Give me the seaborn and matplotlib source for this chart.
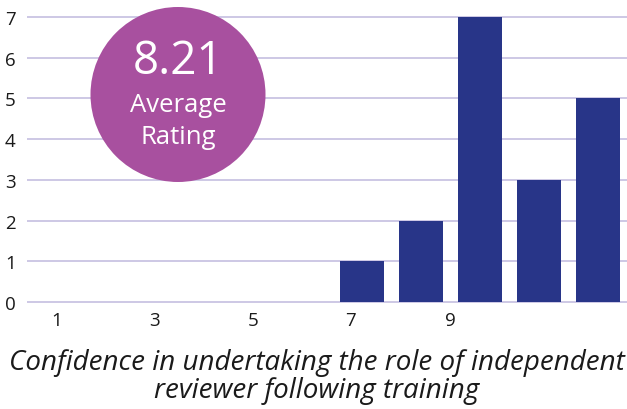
import matplotlib
matplotlib.use("Agg")
import matplotlib.pyplot as plt
from matplotlib.patches import Circle
import seaborn as sns

# Data
ratings = ["1", "2", "3", "4", "5", "6", "7", "8", "9", "10"]
counts = [0, 0, 0, 0, 0, 1, 2, 7, 3, 5]
tick_labels = ["1", "3", "5", "7", "9"]
average = "8.21"

sns.set_style("white")
plt.rcParams["font.family"] = ["Open Sans", "DejaVu Sans"]

fig = plt.figure(figsize=(6.27, 4.10), dpi=100)
ax = fig.add_axes([0.043, 0.2585, 0.957, 0.7415])

sns.barplot(x=ratings, y=counts, order=ratings, color="#283588",
            saturation=1, width=0.75, linewidth=0, ax=ax, zorder=3)

ax.set_xlim(-0.68, 9.49)
ax.set_ylim(-0.02, 7.44)
ax.set_yticks(range(0, 8))
ax.yaxis.grid(True, color="#cdc8e5", linewidth=1.4, zorder=0)
ax.xaxis.grid(False)
ax.set_axisbelow(True)
for s in ax.spines.values():
    s.set_visible(False)

# the original chart spreads its odd labels evenly, not under the bars
ax.set_xticks([-0.17, 1.49, 3.15, 4.8, 6.49])
ax.set_xticklabels(tick_labels)
ax.tick_params(axis="both", length=0, labelsize=13.5, labelcolor="#1a1a1a")
ax.tick_params(axis="x", pad=6)
ax.tick_params(axis="y", pad=8)
ax.set_xlabel("")
ax.set_ylabel("")

# average rating badge
badge = Circle((1.78, 3.145), 0.875, transform=fig.dpi_scale_trans,
               facecolor="#a8509f", edgecolor="none", zorder=5)
fig.patches.append(badge)
fig.text(178 / 627, 1 - 62 / 410, average, ha="center", va="center",
         color="white", fontsize=33, zorder=6)
fig.text(178 / 627, 1 - 105 / 410, "Average", ha="center", va="center",
         color="white", fontsize=18.5, zorder=6)
fig.text(178 / 627, 1 - 137 / 410, "Rating", ha="center", va="center",
         color="white", fontsize=18.5, zorder=6)

fig.text(0.505, 1 - 377 / 410,
         "Confidence in undertaking the role of independent\nreviewer following training",
         ha="center", va="center", fontsize=20, style="italic",
         color="#1a1a1a", linespacing=1.03)

fig.savefig("out.png", dpi=100)
